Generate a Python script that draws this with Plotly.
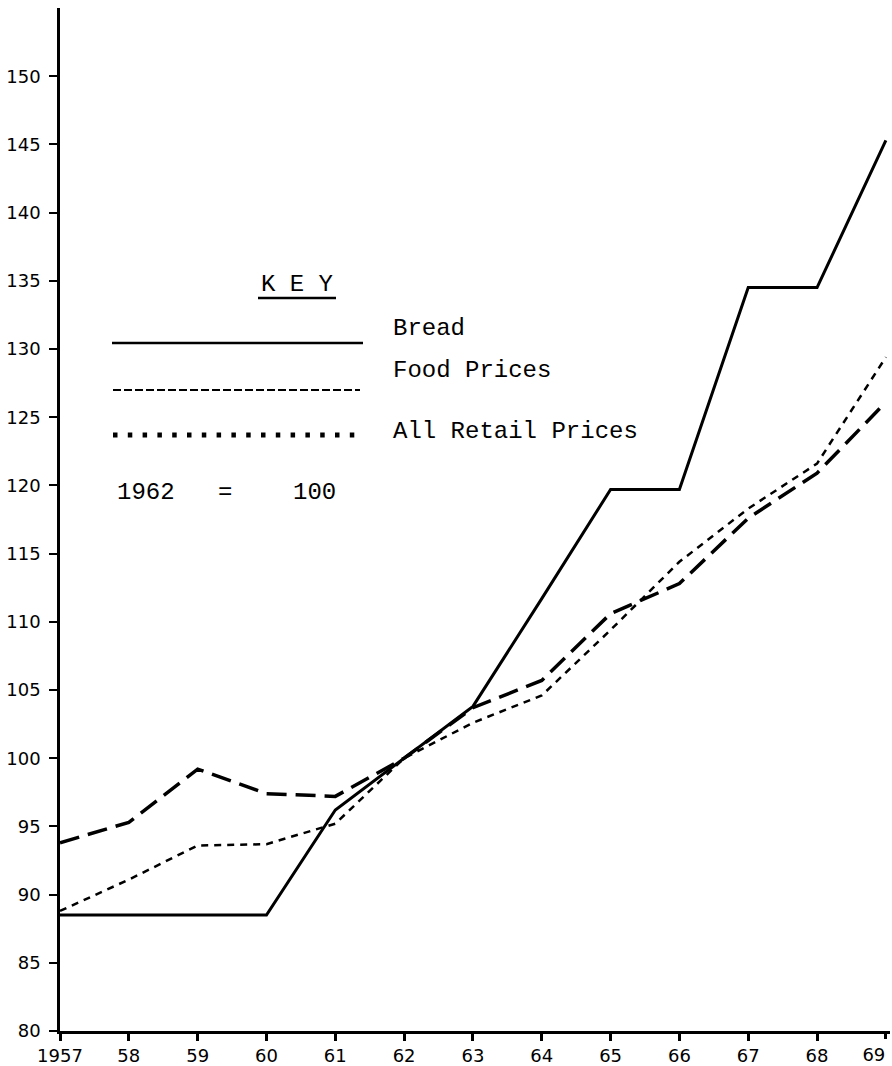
import plotly.graph_objects as go

years = list(range(1957, 1970))
year_labels = ["1957", "58", "59", "60", "61", "62", "63", "64", "65", "66", "67", "68", "69"]
bread = [88.5, 88.5, 88.5, 88.5, 96.2, 100.0, 103.8, 111.7, 119.7, 119.7, 134.5, 134.5, 145.3]
food_prices = [93.8, 95.3, 99.2, 97.4, 97.2, 100.0, 103.7, 105.7, 110.6, 112.8, 117.6, 120.9, 126.1]
all_retail = [88.8, 91.1, 93.6, 93.7, 95.2, 100.0, 102.6, 104.6, 109.4, 114.4, 118.3, 121.6, 129.4]
y_ticks = list(range(80, 155, 5))

W, H = 892, 1066
ML, MR, MT, MB = 60, 2, 8, 35
PW = W - ML - MR
PH = H - MT - MB
X_RANGE = [1957, 1969.06]


def px(x):
    return (x - ML) / PW


def py(y):
    return (H - MB - y) / PH


fig = go.Figure()
fig.add_trace(go.Scatter(x=years, y=bread, mode="lines", name="Bread",
                         line=dict(color="black", width=3)))
fig.add_trace(go.Scatter(x=years, y=food_prices, mode="lines", name="Food Prices",
                         line=dict(color="black", width=3.5, dash="20px,9px")))
fig.add_trace(go.Scatter(x=years, y=all_retail, mode="lines", name="All Retail Prices",
                         line=dict(color="black", width=2.5, dash="7px,6px")))
# invisible carrier so the overlay axis (last year label) is drawn
fig.add_trace(go.Scatter(x=years[-1:], y=bread[-1:], xaxis="x2", mode="markers",
                         marker=dict(opacity=0, size=1), hoverinfo="skip", showlegend=False))

tick_font = dict(family="DejaVu Sans", size=18, color="black")
key_font = dict(family="Liberation Mono", size=24, color="black")

fig.update_layout(
    width=W, height=H,
    margin=dict(l=ML, r=MR, t=MT, b=MB),
    paper_bgcolor="white", plot_bgcolor="white",
    showlegend=False,
    xaxis=dict(range=X_RANGE, tickmode="array", tickvals=years[:-1], ticktext=year_labels[:-1],
               showgrid=False, zeroline=False, showline=True, linecolor="black", linewidth=2.5,
               ticks="outside", ticklen=7, tickwidth=2.5, tickcolor="black", tickfont=tick_font,
               automargin=False),
    # last year label sits left of its tick, as in the original drawing
    xaxis2=dict(range=X_RANGE, overlaying="x", anchor="y", side="bottom",
                tickmode="array", tickvals=years[-1:], ticktext=year_labels[-1:],
                showgrid=False, zeroline=False, showline=False,
                ticks="outside", ticklen=7, tickwidth=2.5, tickcolor="black", tickfont=tick_font,
                ticklabelshift=-12, ticklabeloverflow="allow", automargin=False),
    yaxis=dict(range=[80, 155], tickmode="array", tickvals=y_ticks,
               showgrid=False, zeroline=False, showline=True, linecolor="black", linewidth=2.5,
               ticks="outside", ticklen=8, tickwidth=2, tickcolor="black", tickfont=tick_font,
               ticklabelstandoff=5, automargin=False),
)

# Key
shapes = [
    dict(type="line", xref="paper", yref="paper", x0=px(258), x1=px(336), y0=py(298), y1=py(298),
         line=dict(color="black", width=2.5)),
    dict(type="line", xref="paper", yref="paper", x0=px(112), x1=px(363), y0=py(343), y1=py(343),
         line=dict(color="black", width=2.5)),
    dict(type="line", xref="paper", yref="paper", x0=px(113), x1=px(360), y0=py(390), y1=py(390),
         line=dict(color="black", width=2, dash="8px,3px")),
    dict(type="line", xref="paper", yref="paper", x0=px(113), x1=px(360), y0=py(435), y1=py(435),
         line=dict(color="black", width=5, dash="4.5px,10.3px")),
]
fig.update_layout(shapes=shapes)

annots = [
    ("K E Y", 297, 284, "center"),
    ("Bread", 391, 328, "left"),
    ("Food Prices", 391, 370, "left"),
    ("All Retail Prices", 391, 432, "left"),
    ("1962", 146, 492, "center"),
    ("=", 225, 492, "center"),
    ("100", 314, 492, "center"),
]
for text, x, y, align in annots:
    fig.add_annotation(text=text, xref="paper", yref="paper", x=px(x), y=py(y),
                       xanchor=align, yanchor="middle", showarrow=False, font=key_font)

fig.write_html("out.html", config={"displayModeBar": False},
               post_script="document.body.style.margin='0';document.body.style.overflow='hidden';")
